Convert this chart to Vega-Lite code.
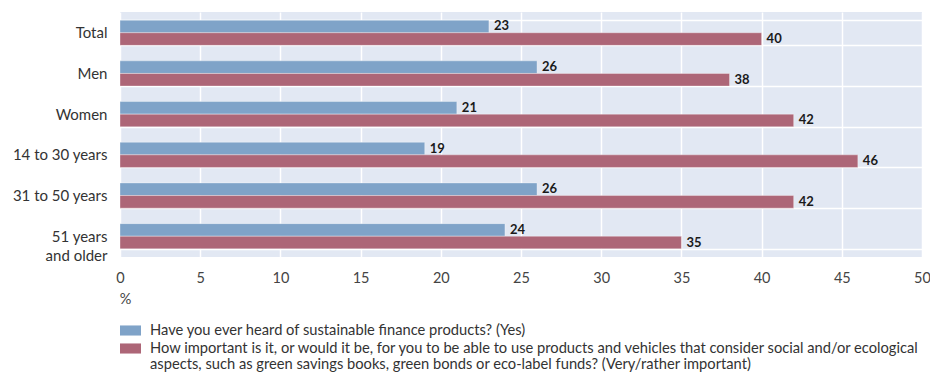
{
  "$schema": "https://vega.github.io/schema/vega-lite/v6.json",
  "width": 802,
  "height": 245,
  "padding": {"left": 0, "top": 5, "right": 8, "bottom": 0},
  "autosize": {"type": "pad"},
  "config": {
    "font": "Lato",
    "view": {"fill": "#e2e8f3", "stroke": null}
  },
  "data": {
    "values": [
      {"group": "Total", "series": "Have you ever heard of sustainable finance products? (Yes)", "value": 23},
      {"group": "Total", "series": "How important is it, or would it be, for you to be able to use products and vehicles that consider social and/or ecological aspects, such as green savings books, green bonds or eco-label funds? (Very/rather important)", "value": 40},
      {"group": "Men", "series": "Have you ever heard of sustainable finance products? (Yes)", "value": 26},
      {"group": "Men", "series": "How important is it, or would it be, for you to be able to use products and vehicles that consider social and/or ecological aspects, such as green savings books, green bonds or eco-label funds? (Very/rather important)", "value": 38},
      {"group": "Women", "series": "Have you ever heard of sustainable finance products? (Yes)", "value": 21},
      {"group": "Women", "series": "How important is it, or would it be, for you to be able to use products and vehicles that consider social and/or ecological aspects, such as green savings books, green bonds or eco-label funds? (Very/rather important)", "value": 42},
      {"group": "14 to 30 years", "series": "Have you ever heard of sustainable finance products? (Yes)", "value": 19},
      {"group": "14 to 30 years", "series": "How important is it, or would it be, for you to be able to use products and vehicles that consider social and/or ecological aspects, such as green savings books, green bonds or eco-label funds? (Very/rather important)", "value": 46},
      {"group": "31 to 50 years", "series": "Have you ever heard of sustainable finance products? (Yes)", "value": 26},
      {"group": "31 to 50 years", "series": "How important is it, or would it be, for you to be able to use products and vehicles that consider social and/or ecological aspects, such as green savings books, green bonds or eco-label funds? (Very/rather important)", "value": 42},
      {"group": "51 years and older", "series": "Have you ever heard of sustainable finance products? (Yes)", "value": 24},
      {"group": "51 years and older", "series": "How important is it, or would it be, for you to be able to use products and vehicles that consider social and/or ecological aspects, such as green savings books, green bonds or eco-label funds? (Very/rather important)", "value": 35}
    ]
  },
  "encoding": {
    "y": {
      "field": "group",
      "type": "nominal",
      "sort": ["Total", "Men", "Women", "14 to 30 years", "31 to 50 years", "51 years and older"],
      "scale": {"paddingInner": 0.38, "paddingOuter": 0.2},
      "axis": {
        "title": null,
        "ticks": false,
        "domain": false,
        "grid": true,
        "tickBand": "extent",
        "gridColor": "#ffffff",
        "gridWidth": 1.5,
        "labelPadding": 13,
        "minExtent": 120,
        "maxExtent": 120,
        "labelFontSize": 15,
        "labelColor": "#333333",
        "labelLineHeight": 19,
        "labelExpr": "datum.value == '51 years and older' ? ['51 years', 'and older'] : datum.value"
      }
    },
    "yOffset": {
      "field": "series",
      "type": "nominal",
      "sort": [
        "Have you ever heard of sustainable finance products? (Yes)",
        "How important is it, or would it be, for you to be able to use products and vehicles that consider social and/or ecological aspects, such as green savings books, green bonds or eco-label funds? (Very/rather important)"
      ],
      "scale": {"paddingInner": 0, "paddingOuter": 0}
    },
    "x": {
      "field": "value",
      "type": "quantitative",
      "scale": {"domain": [0, 50], "nice": false},
      "axis": {
        "values": [0, 5, 10, 15, 20, 25, 30, 35, 40, 45, 50],
        "grid": true,
        "gridColor": "#ffffff",
        "gridWidth": 1.5,
        "ticks": false,
        "domain": false,
        "labelFlush": false,
        "labelOverlap": false,
        "labelPadding": 14,
        "labelFontSize": 14.5,
        "labelColor": "#444444",
        "title": "%",
        "titleFontSize": 14.5,
        "titleFontWeight": "normal",
        "titleColor": "#444444",
        "titleX": 5,
        "titleY": 42,
        "titleAlign": "center",
        "titleBaseline": "middle"
      }
    }
  },
  "layer": [
    {
      "mark": {"type": "bar", "stroke": "#ffffff", "strokeOpacity": 0.35, "strokeWidth": 1},
      "encoding": {
        "color": {
          "field": "series",
          "type": "nominal",
          "sort": [
            "Have you ever heard of sustainable finance products? (Yes)",
            "How important is it, or would it be, for you to be able to use products and vehicles that consider social and/or ecological aspects, such as green savings books, green bonds or eco-label funds? (Very/rather important)"
          ],
          "scale": {"range": ["#7fa3c8", "#ad6677"]},
          "legend": {
            "title": null,
            "orient": "none",
            "legendX": 0,
            "legendY": 308,
            "direction": "vertical",
            "symbolType": "M-1,-0.48H1V0.48H-1Z",
            "symbolSize": 441,
            "symbolStrokeWidth": 0,
            "symbolOpacity": 1,
            "labelFontSize": 14.7,
            "labelColor": "#333333",
            "labelOffset": 9,
            "labelLimit": 900,
            "rowPadding": 0,
            "padding": 0,
            "encode": {"labels": {"enter": {"lineHeight": {"value": 19}}, "update": {"lineHeight": {"value": 19}}}},
            "labelExpr": "indexof(datum.label, 'How') == 0 ? ['How important is it, or would it be, for you to be able to use products and vehicles that consider social and/or ecological', 'aspects, such as green savings books, green bonds or eco-label funds? (Very/rather important)'] : datum.label"
          }
        }
      }
    },
    {
      "mark": {"type": "text", "align": "left", "baseline": "middle", "dx": 5, "fontSize": 13, "fontWeight": "bold", "color": "#1a1a1a"},
      "encoding": {
        "text": {"field": "value", "type": "quantitative"}
      }
    }
  ]
}
